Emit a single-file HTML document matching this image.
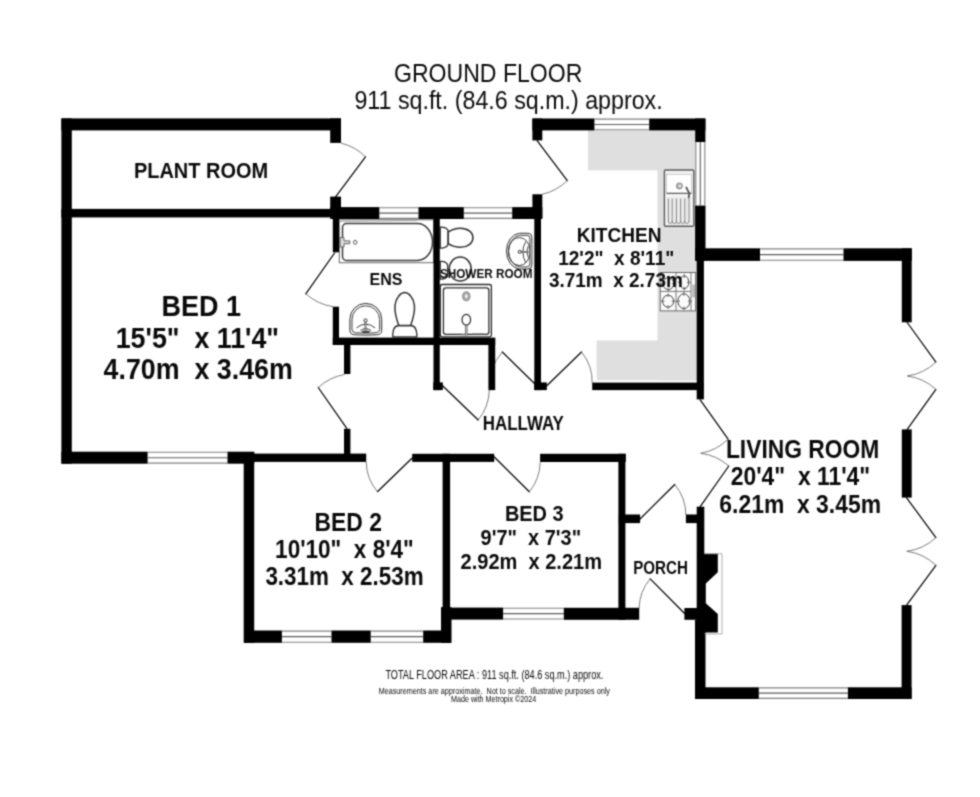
<!DOCTYPE html>
<html lang="en"><head><meta charset="utf-8"><title>Ground Floor Plan</title>
<style>
html,body{margin:0;padding:0;background:#fff;}
body{width:980px;height:797px;overflow:hidden;font-family:"Liberation Sans",sans-serif;}
svg{display:block;}
#wrap{width:980px;height:797px;}
text{font-family:"Liberation Sans",sans-serif;fill:#0a0a0a;}
text.b{stroke:#fff;stroke-width:.4px;paint-order:fill stroke;}
.w{fill:#000;}
.leaf{stroke:#000;stroke-width:1.2;fill:none;stroke-linecap:round;}
.arc{stroke:#5a5a5a;stroke-width:.8;fill:none;}
.fx{stroke:#2a2a2a;stroke-width:1;fill:#fff;}
.fxn{stroke:#2a2a2a;stroke-width:.9;fill:none;}
.win{fill:#fff;stroke:#777;stroke-width:.7;}
.winl{stroke:#777;stroke-width:.7;fill:none;}
</style></head><body><div id="wrap">
<svg width="980" height="797" viewBox="0 0 980 797">
<defs><filter id="soft" x="0" y="0" width="980" height="797" filterUnits="userSpaceOnUse" color-interpolation-filters="sRGB"><feConvolveMatrix order="3" kernelMatrix="0.0400 0.1200 0.0400 0.1200 0.3600 0.1200 0.0400 0.1200 0.0400" edgeMode="duplicate" preserveAlpha="true"/></filter></defs>
<g filter="url(#soft)">
<rect width="980" height="797" fill="#fff"/>
<g fill="#dfdfdf">
<rect x="588" y="130" width="107.5" height="40.4"/>
<rect x="657.5" y="170" width="39.5" height="210.3"/>
<rect x="596.6" y="340.4" width="100" height="39.9"/>
</g>
<g id="fixtures">
<rect x="339.3" y="219.8" width="94.3" height="42.9" style="fill:#fff;stroke:#6a6a6a;stroke-width:1"/>
<path d="M340 221.6 L417 220.6" style="stroke:#9a9a9a;stroke-width:.8;fill:none"/>
<path class="fx" style="stroke-width:1.5;stroke:#3a3a3a" d="M346.5 223.5 H417.5 A15 18.5 0 0 1 417.5 260.5 H346.5 A4 4 0 0 1 342.5 256.5 V227.5 A4 4 0 0 1 346.5 223.5Z"/>
<path d="M340 237.600 h4 v3.300 h5.800 v2.800 h-5.800 v3.300 h-4z" style="fill:#ddd;stroke:#555;stroke-width:.9"/>
<ellipse cx="355.2" cy="242.3" rx="1.700" ry="2" style="fill:#fff;stroke:#444;stroke-width:.9"/>
<path class="fx" d="M349.9 319.3 A15.9 15.9 0 0 1 381.7 319.3 V330.5 Q381.7 334.3 377.5 334.7 Q365.8 335.700 354.1 334.7 Q349.9 334.3 349.9 330.5Z"/>
<path class="fxn" d="M352 319.600 A13.8 13.8 0 0 1 379.600 319.600 V329.500 Q379.600 332.300 376.300 332.700 Q365.8 333.600 355.300 332.700 Q352 332.300 352 329.500Z"/>
<path class="fxn" d="M356.5 327.800 Q365.8 320.500 375.100 327.800"/>
<path class="fxn" d="M360.500 330.500 Q365.8 326.800 371.100 330.500"/>
<circle class="fx" cx="365.5" cy="320.500" r="1.600"/>
<path d="M365.500 322.200 V330" style="stroke:#333;stroke-width:1.700;fill:none"/>
<path d="M365.500 323 V329.500" style="stroke:#ddd;stroke-width:.6;fill:none"/>
<ellipse cx="365.8" cy="331.700" rx="4.200" ry="1.300" style="fill:#444"/>
<path class="fx" style="stroke-width:1.3" d="M392.8 336.800 V334 Q393.300 326 398.500 325.500 H411.100 Q416.300 326 416.800 334 V336.800Z"/>
<path class="fx" style="stroke-width:1.500;stroke:#333" d="M404.7 292.600 C408.600 292.600 413.400 297.500 414.400 305.400 C415 312 413 319 410.600 325.500 H398.800 C396.400 319 394.400 312 395 305.400 C396 297.500 400.800 292.600 404.700 292.600Z"/>
<path class="fx" style="stroke-width:1.300" d="M440.2 227.2 H442 Q448.2 227.8 448.2 232 V243.300 Q448.2 247.500 442 248.100 H440.2Z"/>
<path class="fx" style="stroke-width:1.600;stroke:#333" d="M448.200 232 C452 229.500 456 228.300 460.500 228.300 C467.500 228.300 472.900 232.300 472.900 237.800 C472.900 243.300 467.500 247.300 460.500 247.300 C456 247.300 452 246.100 448.200 243.600Z"/>
<path class="fx" style="stroke-width:1.300" d="M440.2 261.400 H442 Q447.7 262 447.7 266 V274.600 Q447.7 278.600 442 279.200 H440.2Z"/>
<ellipse class="fx" style="stroke-width:1.600;stroke:#333" cx="460.2" cy="269" rx="11" ry="12"/>
<path class="fx" d="M519.500 233.300 A14.100 17.900 0 0 0 519.500 269 H528 Q531.900 269 531.900 265 V237.300 Q531.900 233.300 528 233.300Z"/>
<path class="fxn" d="M519.800 235.400 A12.200 15.800 0 0 0 519.800 266.900 H527 Q529.900 266.900 529.900 264 V238.300 Q529.900 235.400 527 235.400Z"/>
<ellipse class="fxn" cx="519.3" cy="251.500" rx="11" ry="14"/>
<path class="fxn" d="M525.800 241.500 Q519.800 251.500 525.800 262.900"/>
<path class="fxn" d="M528.300 246 Q525.300 251.500 528.300 257.500"/>
<circle class="fx" cx="519.7" cy="251.800" r="1.500"/>
<path d="M521.400 251.800 H528.500" style="stroke:#333;stroke-width:1.600;fill:none"/>
<path d="M522 251.800 H528" style="stroke:#ddd;stroke-width:.6;fill:none"/>
<rect x="529.9" y="243" width="2" height="17" style="fill:#999"/>
<rect class="fx" style="stroke-width:1.300" x="440.3" y="284.500" width="51.100" height="52.300" rx="1.800"/>
<rect class="fx" style="stroke-width:1.300" x="443.4" y="287.800" width="45.500" height="46.600" rx="2.600"/>
<ellipse cx="466.3" cy="296.300" rx="3.700" ry="4.500" style="fill:#aaa;stroke:#777;stroke-width:.8"/>
<ellipse cx="466.3" cy="296.300" rx="1.300" ry="2" style="fill:#f4f4f4"/>
<ellipse class="fx" style="stroke-width:1.200" cx="466.3" cy="319.700" rx="4.300" ry="5.400"/>
<path d="M466.300 325.100 V335.500" style="stroke:#444;stroke-width:2.400;fill:none"/>
<path d="M466.300 325.500 V335.500" style="stroke:#eee;stroke-width:.9;fill:none"/>
<path d="M461 334.800 H465 M472 333.800 H484" style="stroke:#888;stroke-width:.9;fill:none"/>
<rect x="664.4" y="170" width="29.400" height="56.300" rx="1" style="fill:#f3f3f3;stroke:#5a5a5a;stroke-width:1.400"/>
<rect x="666.6" y="174.200" width="25" height="19" style="fill:#fff;stroke:#aaa;stroke-width:.6"/>
<path d="M666.600 193.300 H691.600" style="stroke:#444;stroke-width:1;fill:none"/>
<rect x="666.6" y="197.600" width="25" height="26.400" style="fill:#ececec"/>
<path d="M668.400 198.500 V221 Q668.400 223.600 670.300 223.600 Q672.200 223.600 672.200 221 V198.500 M672.200 221 Q672.200 223.600 674.300 223.600 Q676.400 223.600 676.400 221 V198.500 M676.400 221 Q676.400 223.600 678.500 223.600 Q680.600 223.600 680.600 221 V198.500 M680.600 221 Q680.600 223.600 682.700 223.600 Q684.800 223.600 684.800 221 V198.500 M684.800 221 Q684.800 223.600 686.900 223.600 Q689 223.600 689 221 V198.500" style="stroke:#7a7a7a;stroke-width:.9;fill:none"/>
<circle cx="679.4" cy="186" r="3.100" style="fill:#b0b0b0;stroke:#777;stroke-width:.7"/>
<circle cx="679.9" cy="186" r="1.200" style="fill:#eee"/>
<path d="M686.300 187.500 L689.300 193.300 L688.700 197.500" style="stroke:#555;stroke-width:1.800;fill:none;stroke-linecap:round"/>
<rect x="660.2" y="272.500" width="35.400" height="38.400" style="fill:#fbfbfb;stroke:#666;stroke-width:1"/>
<path d="M660.200 291.400 H691 M676 272.500 V310.900 M691 272.500 V310.900" style="stroke:#666;stroke-width:.9;fill:none"/>
<rect x="692.3" y="284.600" width="2.600" height="12.800" fill="#b5b5b5"/>
<ellipse cx="668.3" cy="283.6" rx="5.4" ry="6.0" style="fill:none;stroke:#444;stroke-width:1"/>
<path d="M660.9 283.6 h4 M671.7 283.6 h4 M668.3 275.6 v4 M668.3 287.6 v4" style="stroke:#555;stroke-width:.8;fill:none"/>
<ellipse cx="684.3" cy="282.3" rx="4.5" ry="6.4" style="fill:none;stroke:#444;stroke-width:1"/>
<path d="M677.8 282.3 h4 M686.8 282.3 h4 M684.3 273.9 v4 M684.3 286.7 v4" style="stroke:#555;stroke-width:.8;fill:none"/>
<ellipse cx="668.1" cy="301.2" rx="5.6" ry="6.0" style="fill:none;stroke:#444;stroke-width:1"/>
<path d="M660.5 301.2 h4 M671.7 301.2 h4 M668.1 293.2 v4 M668.1 305.2 v4" style="stroke:#555;stroke-width:.8;fill:none"/>
<ellipse cx="683.9" cy="301.2" rx="6.0" ry="7.4" style="fill:none;stroke:#444;stroke-width:1"/>
<path d="M675.9 301.2 h4 M687.9 301.2 h4 M683.9 291.8 v4 M683.9 306.6 v4" style="stroke:#555;stroke-width:.8;fill:none"/>
</g>
<g id="windows">
<rect x="379.3" y="207.1" width="39.2" height="11.9" fill="#fff"/>
<path d="M379.3 207.7 H418.5 M379.3 218.4 H418.5" style="stroke:#808080;stroke-width:1.1;fill:none"/>
<path d="M379.3 213.1 H418.5" style="stroke:#5c5c5c;stroke-width:1.1;fill:none"/>
<rect x="463.8" y="207.1" width="48.4" height="11.9" fill="#fff"/>
<path d="M463.8 207.7 H512.2 M463.8 218.4 H512.2" style="stroke:#808080;stroke-width:1.1;fill:none"/>
<path d="M463.8 213.1 H512.2" style="stroke:#5c5c5c;stroke-width:1.1;fill:none"/>
<rect x="594.4" y="118.5" width="54.8" height="11.9" fill="#fff"/>
<path d="M594.4 119.1 H649.2 M594.4 129.8 H649.2" style="stroke:#808080;stroke-width:1.1;fill:none"/>
<path d="M594.4 124.5 H649.2" style="stroke:#5c5c5c;stroke-width:1.1;fill:none"/>
<rect x="695.2" y="142.0" width="10.2" height="63.4" fill="#fff"/>
<path d="M695.8 142.0 V205.4 M704.8 142.0 V205.4" style="stroke:#808080;stroke-width:1.1;fill:none"/>
<path d="M700.3 142.0 V205.4" style="stroke:#5c5c5c;stroke-width:1.1;fill:none"/>
<rect x="760.0" y="248.3" width="83.5" height="12.6" fill="#fff"/>
<path d="M760.0 248.9 H843.5 M760.0 260.3 H843.5" style="stroke:#808080;stroke-width:1.1;fill:none"/>
<path d="M760.0 254.6 H843.5" style="stroke:#5c5c5c;stroke-width:1.1;fill:none"/>
<rect x="758.8" y="687.3" width="89.1" height="11.7" fill="#fff"/>
<path d="M758.8 687.9 H847.9 M758.8 698.4 H847.9" style="stroke:#808080;stroke-width:1.1;fill:none"/>
<path d="M758.8 693.1 H847.9" style="stroke:#5c5c5c;stroke-width:1.1;fill:none"/>
<rect x="147.6" y="451.7" width="79.9" height="12.0" fill="#fff"/>
<path d="M147.6 452.3 H227.5 M147.6 463.1 H227.5" style="stroke:#808080;stroke-width:1.1;fill:none"/>
<path d="M147.6 457.7 H227.5" style="stroke:#5c5c5c;stroke-width:1.1;fill:none"/>
<rect x="281.9" y="630.5" width="49.6" height="12.3" fill="#fff"/>
<path d="M281.9 631.1 H331.5 M281.9 642.2 H331.5" style="stroke:#808080;stroke-width:1.1;fill:none"/>
<path d="M281.9 636.6 H331.5" style="stroke:#5c5c5c;stroke-width:1.1;fill:none"/>
<rect x="370.7" y="630.5" width="52.5" height="12.3" fill="#fff"/>
<path d="M370.7 631.1 H423.2 M370.7 642.2 H423.2" style="stroke:#808080;stroke-width:1.1;fill:none"/>
<path d="M370.7 636.6 H423.2" style="stroke:#5c5c5c;stroke-width:1.1;fill:none"/>
<rect x="503.1" y="607.6" width="60.7" height="12.0" fill="#fff"/>
<path d="M503.1 608.2 H563.8 M503.1 619.0 H563.8" style="stroke:#808080;stroke-width:1.1;fill:none"/>
<path d="M503.1 613.6 H563.8" style="stroke:#5c5c5c;stroke-width:1.1;fill:none"/>
</g>
<g id="doors">
<path d="M335.6 196.8 L365.5 156.8" class="leaf"/><path d="M365.5 156.8 Q355.2 146.5 341.0 143.1" class="arc"/>
<path d="M334.6 253.0 L305.8 293.8" class="leaf"/><path d="M305.8 293.8 Q317.5 304.3 333.0 306.7" class="arc"/>
<path d="M346.8 428.4 L318.2 387.5" class="leaf"/><path d="M318.2 387.5 Q329.5 377.2 344.5 374.5" class="arc"/>
<path d="M412.2 458.0 L377.4 491.7" class="leaf"/><path d="M377.4 491.7 Q366.5 478.8 366.2 462.0" class="arc"/>
<path d="M494.3 457.0 L529.3 491.8" class="leaf"/><path d="M529.3 491.8 Q539.9 478.9 540.2 462.2" class="arc"/>
<path d="M442.3 385.5 L478.2 420.0" class="leaf"/><path d="M478.2 420.0 Q488.9 407.0 489.3 390.1" class="arc"/>
<path d="M535.0 384.0 L502.3 352.0" class="leaf"/><path d="M502.3 352.0 Q487.5 368.4 491.5 390.1" class="arc"/>
<path d="M546.8 385.8 L581.5 352.0" class="leaf"/><path d="M581.5 352.0 Q592.6 365.5 592.2 383.0" class="arc"/>
<path d="M537.1 140.6 L567.3 180.6" class="leaf"/><path d="M567.3 180.6 Q556.7 191.0 542.2 194.3" class="arc"/>
<path d="M700.2 399.8 L728.1 439.2" class="leaf"/><path d="M728.1 439.2 Q716.6 450.5 700.7 453.3" class="arc"/>
<path d="M700.2 506.6 L728.8 466.0" class="leaf"/><path d="M728.8 466.0 Q716.7 455.3 700.7 453.3" class="arc"/>
<path d="M907.2 322.5 L935.9 362.1" class="leaf"/><path d="M935.9 362.1 Q923.8 373.7 907.3 376.0" class="arc"/>
<path d="M907.2 429.4 L935.9 389.4" class="leaf"/><path d="M935.9 389.4 Q923.7 378.1 907.3 376.0" class="arc"/>
<path d="M906.6 497.8 L935.9 537.6" class="leaf"/><path d="M935.9 537.6 Q923.5 549.2 906.7 551.3" class="arc"/>
<path d="M906.6 605.2 L935.9 565.3" class="leaf"/><path d="M935.9 565.3 Q923.6 553.5 906.7 551.3" class="arc"/>
<path d="M640.0 519.0 L674.7 484.5" class="leaf"/><path d="M674.7 484.5 Q685.8 497.7 685.9 515.0" class="arc"/>
<path d="M684.6 613.5 L650.2 578.8" class="leaf"/><path d="M650.2 578.8 Q639.4 591.6 639.1 608.4" class="arc"/>
</g>
<g id="walls" class="w">
<rect x="61.4" y="118.4" width="10.4" height="345.3"/>
<rect x="61.4" y="118.4" width="279.6" height="12.0"/>
<rect x="330.2" y="118.4" width="10.8" height="24.5"/>
<rect x="330.2" y="196.6" width="10.8" height="13.4"/>
<rect x="61.4" y="208.9" width="278.6" height="8.5"/>
<rect x="330.2" y="207.1" width="49.1" height="11.9"/>
<rect x="418.5" y="207.1" width="45.3" height="11.9"/>
<rect x="512.2" y="207.1" width="30.1" height="11.9"/>
<rect x="332.8" y="218.0" width="6.2" height="34.3"/>
<rect x="332.8" y="306.7" width="6.2" height="38.3"/>
<rect x="332.8" y="337.6" width="162.4" height="7.4"/>
<rect x="433.5" y="218.0" width="6.3" height="172.1"/>
<rect x="433.3" y="382.4" width="9.5" height="7.7"/>
<rect x="488.4" y="338.0" width="6.8" height="52.1"/>
<rect x="534.3" y="218.0" width="6.7" height="172.1"/>
<rect x="534.3" y="382.4" width="12.5" height="7.7"/>
<rect x="532.4" y="194.3" width="9.9" height="23.7"/>
<rect x="532.4" y="118.5" width="9.9" height="21.9"/>
<rect x="532.4" y="118.5" width="62.0" height="11.9"/>
<rect x="649.2" y="118.5" width="56.2" height="11.9"/>
<rect x="695.2" y="118.5" width="10.2" height="23.5"/>
<rect x="695.1" y="205.6" width="10.4" height="55.0"/>
<rect x="696.7" y="260.0" width="7.2" height="139.4"/>
<rect x="592.2" y="382.6" width="111.3" height="7.5"/>
<rect x="695.2" y="248.3" width="64.8" height="12.6"/>
<rect x="843.5" y="248.3" width="68.3" height="12.6"/>
<rect x="901.8" y="248.3" width="9.9" height="74.0"/>
<rect x="901.8" y="429.4" width="9.9" height="68.2"/>
<rect x="901.6" y="605.1" width="10.0" height="93.9"/>
<rect x="695.0" y="687.3" width="63.8" height="11.7"/>
<rect x="847.9" y="687.3" width="63.7" height="11.7"/>
<rect x="696.7" y="506.7" width="7.6" height="114.3"/>
<rect x="695.0" y="619.8" width="10.5" height="79.2"/>
<rect x="618.8" y="514.5" width="21.3" height="8.6"/>
<rect x="685.9" y="514.5" width="11.1" height="8.6"/>
<rect x="684.4" y="608.0" width="12.6" height="11.8"/>
<rect x="618.4" y="453.8" width="7.0" height="166.0"/>
<rect x="540.1" y="453.8" width="85.7" height="8.2"/>
<rect x="412.2" y="453.8" width="82.0" height="8.1"/>
<rect x="244.0" y="453.6" width="122.2" height="8.3"/>
<rect x="61.4" y="451.7" width="86.2" height="12.0"/>
<rect x="227.5" y="451.7" width="26.7" height="12.0"/>
<rect x="243.7" y="452.0" width="10.5" height="190.8"/>
<rect x="244.0" y="630.5" width="37.9" height="12.3"/>
<rect x="331.5" y="630.5" width="39.2" height="12.3"/>
<rect x="423.2" y="630.5" width="27.6" height="12.3"/>
<rect x="442.6" y="453.8" width="7.5" height="189.0"/>
<rect x="441.0" y="607.2" width="10.5" height="35.6"/>
<rect x="441.0" y="607.6" width="62.1" height="12.0"/>
<rect x="563.8" y="607.8" width="75.4" height="12.0"/>
<rect x="344.0" y="345.0" width="6.4" height="29.0"/>
<rect x="344.0" y="428.8" width="6.4" height="25.2"/>
<path d="M704 553.8 H717.8 V572.2 L705.8 583.5 V603.3 L717.8 614 V632.600 H704Z"/>
</g>
<path d="M704.3 553.8 H722 V634 H704.3" style="fill:none;stroke:#999;stroke-width:.8"/>
<g id="labels">
<text x="394.0" y="81.5" font-size="25.8" font-weight="400" textLength="188.4" lengthAdjust="spacingAndGlyphs" xml:space="preserve">GROUND FLOOR</text>
<text x="354.4" y="109.3" font-size="25.8" font-weight="400" textLength="308.3" lengthAdjust="spacingAndGlyphs" xml:space="preserve">911 sq.ft. (84.6 sq.m.) approx.</text>
<text x="133.9" y="178.3" font-size="22.5" font-weight="700" textLength="134.3" lengthAdjust="spacingAndGlyphs" xml:space="preserve">PLANT ROOM</text>
<text x="161.6" y="316.2" font-size="29.0" font-weight="700" textLength="79.4" lengthAdjust="spacingAndGlyphs" xml:space="preserve">BED 1</text>
<text x="115.7" y="348.4" font-size="29.0" font-weight="700" textLength="163.4" lengthAdjust="spacingAndGlyphs" xml:space="preserve">15'5&quot;  x 11'4&quot;</text>
<text x="103.6" y="378.8" font-size="29.0" font-weight="700" textLength="189.2" lengthAdjust="spacingAndGlyphs" xml:space="preserve">4.70m  x 3.46m</text>
<text x="369.5" y="285.4" font-size="17.3" font-weight="700" textLength="32.9" lengthAdjust="spacingAndGlyphs" xml:space="preserve">ENS</text>
<text x="439.9" y="278.3" font-size="12.5" font-weight="700" textLength="92.6" lengthAdjust="spacingAndGlyphs" xml:space="preserve">SHOWER ROOM</text>
<text x="576.7" y="241.9" font-size="20.6" font-weight="700" textLength="84.8" lengthAdjust="spacingAndGlyphs" xml:space="preserve">KITCHEN</text>
<text x="558.2" y="264.7" font-size="20.6" font-weight="700" textLength="116.1" lengthAdjust="spacingAndGlyphs" xml:space="preserve">12'2&quot;  x 8'11&quot;</text>
<text x="548.9" y="286.8" font-size="20.6" font-weight="700" textLength="133.9" lengthAdjust="spacingAndGlyphs" xml:space="preserve">3.71m  x 2.73m</text>
<text x="482.8" y="430.4" font-size="19.6" font-weight="700" textLength="81.1" lengthAdjust="spacingAndGlyphs" xml:space="preserve">HALLWAY</text>
<text x="725.9" y="458.0" font-size="26.1" font-weight="700" textLength="153.5" lengthAdjust="spacingAndGlyphs" xml:space="preserve">LIVING ROOM</text>
<text x="730.7" y="485.4" font-size="26.1" font-weight="700" textLength="139.5" lengthAdjust="spacingAndGlyphs" xml:space="preserve">20'4&quot;  x 11'4&quot;</text>
<text x="719.3" y="512.5" font-size="26.1" font-weight="700" textLength="161.8" lengthAdjust="spacingAndGlyphs" xml:space="preserve">6.21m  x 3.45m</text>
<text x="314.6" y="530.8" font-size="24.9" font-weight="700" textLength="67.3" lengthAdjust="spacingAndGlyphs" xml:space="preserve">BED 2</text>
<text x="275.1" y="558.2" font-size="24.9" font-weight="700" textLength="138.7" lengthAdjust="spacingAndGlyphs" xml:space="preserve">10'10&quot;  x 8'4&quot;</text>
<text x="265.4" y="584.6" font-size="24.9" font-weight="700" textLength="158.2" lengthAdjust="spacingAndGlyphs" xml:space="preserve">3.31m  x 2.53m</text>
<text x="504.9" y="521.4" font-size="21.4" font-weight="700" textLength="58.8" lengthAdjust="spacingAndGlyphs" xml:space="preserve">BED 3</text>
<text x="480.6" y="545.1" font-size="21.4" font-weight="700" textLength="100.5" lengthAdjust="spacingAndGlyphs" xml:space="preserve">9'7&quot;  x 7'3&quot;</text>
<text x="460.6" y="568.8" font-size="21.4" font-weight="700" textLength="141.4" lengthAdjust="spacingAndGlyphs" xml:space="preserve">2.92m  x 2.21m</text>
<text x="633.2" y="573.8" font-size="18.3" font-weight="700" textLength="54.8" lengthAdjust="spacingAndGlyphs" xml:space="preserve">PORCH</text>
<text x="385.4" y="679.3" font-size="12.2" font-weight="400" textLength="218.0" lengthAdjust="spacingAndGlyphs" xml:space="preserve">TOTAL FLOOR AREA : 911 sq.ft. (84.6 sq.m.) approx.</text>
<text x="378.7" y="693.7" font-size="8.8" font-weight="400" textLength="231.2" lengthAdjust="spacingAndGlyphs" xml:space="preserve">Measurements are approximate.  Not to scale.  Illustrative purposes only</text>
<text x="451.0" y="702.4" font-size="8.4" font-weight="400" textLength="85.2" lengthAdjust="spacingAndGlyphs" xml:space="preserve">Made with Metropix ©2024</text>
</g>
</g></svg></div></body></html>
